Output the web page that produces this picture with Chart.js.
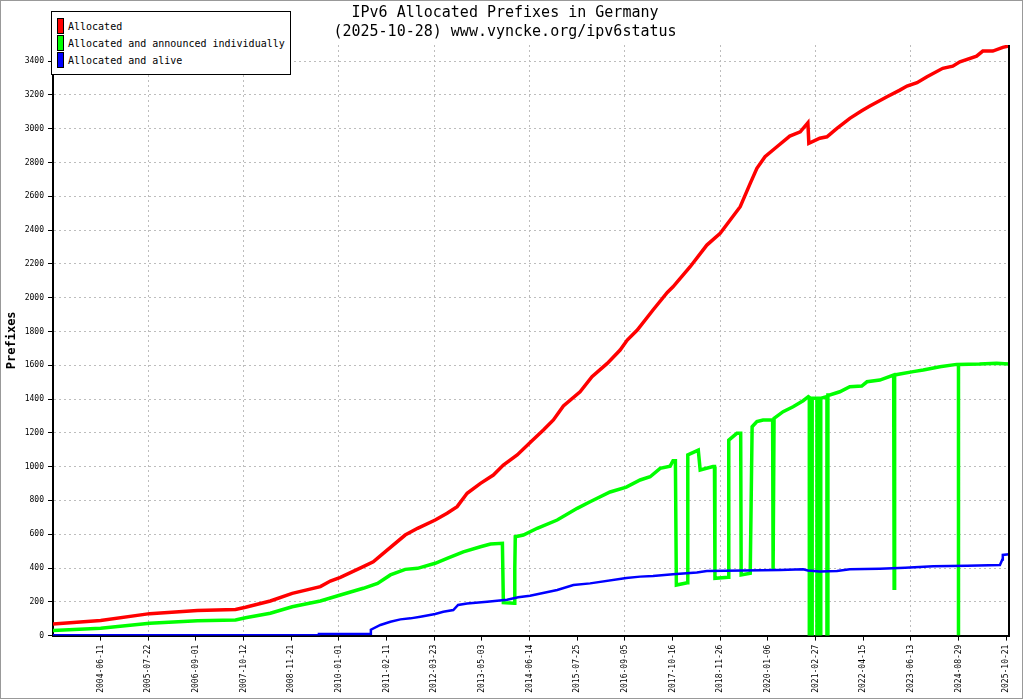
<!DOCTYPE html>
<html>
<head>
<meta charset="utf-8">
<title>IPv6 Allocated Prefixes in Germany</title>
<script src="https://cdn.jsdelivr.net/npm/chart.js@4.4.1/dist/chart.umd.min.js"></script>
<style>
  html, body { margin: 0; padding: 0; background: #fff; }
  #frame { position: absolute; left: 0; top: 0; width: 1021px; height: 697px; border: 1px solid #999; background: #fff; }
  #chart { display: block; }
  #legend { position: absolute; left: 50px; top: 10px; width: 238px; height: 62px; border: 1px solid #000; background: #fff;
            font: 10px "DejaVu Sans Mono", monospace; color: #000; }
  #legend .item { position: absolute; left: 5px; height: 16px; }
  #legend .sw { position: absolute; left: 0; top: 0; width: 5px; height: 14px; border: 1px solid #000; }
  #legend .lbl { position: absolute; left: 11px; top: 0; line-height: 17px; white-space: nowrap; }
</style>
</head>
<body>
<div id="frame">
  <canvas id="chart" width="1021" height="697"></canvas>
  <div id="legend"></div>
</div>
<script>
// x values are positions along the axis, in label steps (label k sits at x = k)
const dateLabels = ['2004-06-11','2005-07-22','2006-09-01','2007-10-12','2008-11-21','2010-01-01','2011-02-11',
  '2012-03-23','2013-05-03','2014-06-14','2015-07-25','2016-09-05','2017-10-16','2018-11-26','2020-01-06',
  '2021-02-27','2022-04-15','2023-06-13','2024-08-29','2025-10-21'];

// Allocated
const allocatedX = [0, 1.00, 2.03, 3.03, 3.83, 4.04, 4.56, 5.02, 5.61, 5.82,
  6.03, 6.51, 6.72, 6.93, 7.39, 7.65, 8.02, 8.27, 8.48, 8.69,
  8.97, 9.24, 9.45, 9.74, 10.04, 10.29, 10.50, 10.71, 11.06, 11.31,
  11.63, 11.90, 12.05, 12.26, 12.59, 12.89, 13.01, 13.37, 13.72, 14.00,
  14.21, 14.42, 14.63, 14.77, 14.94, 15.19, 15.46, 15.68, 15.84, 15.86,
  16.09, 16.24, 16.45, 16.72, 16.97, 17.14, 17.50, 17.77, 17.92, 18.13,
  18.34, 18.67, 18.88, 19.03, 19.38, 19.51, 19.72, 19.93, 20.06];
const allocatedY = [68, 90, 130, 148, 155, 168, 205, 250, 290, 323,
  345, 408, 437, 487, 595, 635, 684, 724, 763, 842,
  901, 950, 1009, 1069, 1150, 1217, 1276, 1359, 1443, 1532,
  1611, 1690, 1749, 1808, 1927, 2031, 2064, 2183, 2311, 2380,
  2459, 2538, 2676, 2765, 2834, 2893, 2956, 2981, 3035, 2913,
  2943, 2952, 3002, 3061, 3106, 3134, 3189, 3228, 3252, 3272,
  3307, 3357, 3370, 3396, 3429, 3459, 3459, 3481, 3489];

// Allocated and announced individually
const announcedX = [0, 1.00, 2.03, 3.03, 3.83, 4.04, 4.56, 5.02, 5.61, 6.03,
  6.51, 6.81, 7.08, 7.39, 7.65, 8.02, 8.27, 8.61, 8.97, 9.18,
  9.43, 9.45, 9.68, 9.69, 9.70, 9.87, 10.16, 10.58, 11.00, 11.27,
  11.69, 12.03, 12.32, 12.53, 12.74, 12.95, 13.01, 13.06, 13.08, 13.31,
  13.32, 13.54, 13.58, 13.85, 13.88, 13.89, 14.17, 14.18, 14.35, 14.43,
  14.44, 14.63, 14.67, 14.77, 14.90, 15.10, 15.11, 15.13, 15.32, 15.53,
  15.74, 15.85, 15.87, 15.87, 15.89, 15.89, 15.91, 15.91, 15.93, 15.93,
  16.03, 16.03, 16.05, 16.05, 16.07, 16.07, 16.09, 16.09, 16.11, 16.11,
  16.11, 16.24, 16.24, 16.26, 16.26, 16.30, 16.51, 16.72, 16.97, 17.08,
  17.35, 17.64, 17.65, 17.66, 17.77, 18.05, 18.26, 18.61, 18.96, 19.00,
  19.00, 19.00, 19.44, 19.80, 20.06];
const announcedY = [30, 43, 73, 88, 92, 106, 132, 171, 205, 240,
  280, 309, 359, 392, 398, 428, 457, 496, 526, 542,
  546, 195, 192, 398, 585, 595, 635, 684, 753, 792,
  850, 879, 921, 940, 990, 1003, 1035, 1035, 299, 313,
  1069, 1098, 980, 1000, 1000, 339, 345, 1157, 1197, 1197,
  359, 369, 1236, 1266, 1276, 1276, 388, 1286, 1325, 1354,
  1390, 1414, 1410, 0, 0, 1404, 1404, 0, 0, 1404,
  1404, 0, 0, 1404, 1404, 0, 0, 1404, 1404, 0,
  1404, 1414, 0, 0, 1424, 1424, 1443, 1473, 1477, 1502,
  1512, 1542, 280, 1542, 1548, 1562, 1572, 1591, 1605, 1605,
  0, 1605, 1607, 1611, 1607];

// Allocated and alive
const aliveX = [0, 5.57, 5.58, 6.66, 6.67, 6.87, 7.08, 7.29, 7.50, 7.71,
  8.02, 8.19, 8.40, 8.50, 8.69, 9.11, 9.53, 9.76, 10.01, 10.58,
  10.92, 11.27, 12.03, 12.32, 12.59, 13.01, 13.51, 13.72, 15.26, 15.74,
  15.84, 16.09, 16.45, 16.72, 17.35, 17.88, 18.47, 19.18, 19.87, 19.92,
  19.93, 20.06];
const aliveY = [2, 2, 9, 10, 35, 63, 82, 96, 102, 112,
  128, 141, 151, 181, 190, 201, 212, 227, 236, 270,
  299, 309, 341, 349, 353, 363, 374, 382, 388, 392,
  385, 380, 382, 392, 396, 402, 410, 414, 418, 450,
  477, 481];

const MONO = '"DejaVu Sans Mono", monospace';
const GRID = '#bdbdbd';

function pts(xs, ys) { return xs.map((x, i) => ({ x, y: ys[i] })); }

// right frame line of the plot area
const rightBorder = {
  id: 'rightBorder',
  afterDatasetsDraw(chart) {
    const { ctx, chartArea: a } = chart;
    ctx.save();
    ctx.strokeStyle = '#000'; ctx.lineWidth = 2;
    ctx.beginPath(); ctx.moveTo(a.right, a.top); ctx.lineTo(a.right, a.bottom); ctx.stroke();
    ctx.restore();
  }
};

const chart = new Chart(document.getElementById('chart'), {
  type: 'line',
  data: {
    datasets: [
      { label: 'Allocated', data: pts(allocatedX, allocatedY), borderColor: '#ff0000', borderWidth: 3.5, order: 2 },
      { label: 'Allocated and announced individually', data: pts(announcedX, announcedY), borderColor: '#00ff00', borderWidth: 3.5, order: 1 },
      { label: 'Allocated and alive', data: pts(aliveX, aliveY), borderColor: '#0000ff', borderWidth: 2.5, order: 0 }
    ]
  },
  options: {
    responsive: false, animation: false, devicePixelRatio: 1,
    elements: { point: { radius: 0 }, line: { tension: 0, fill: false } },
    layout: { padding: { left: 0, right: 13, top: 0, bottom: 0 } },
    plugins: {
      legend: { display: false },
      tooltip: { enabled: false },
      title: {
        display: true,
        text: ['IPv6 Allocated Prefixes in Germany', '(2025-10-28) www.vyncke.org/ipv6status'],
        color: '#000',
        font: { family: MONO, size: 15, weight: 'normal', lineHeight: '19px' },
        padding: { top: 3, bottom: 3 }
      }
    },
    scales: {
      x: {
        type: 'linear', min: 0, max: 20.06,
        afterBuildTicks: s => { s.ticks = dateLabels.map((_, i) => ({ value: i + 1 })); },
        afterFit: s => { s.height = 62.4; },
        ticks: { autoSkip: false, minRotation: 90, maxRotation: 90, padding: 4, color: '#000',
                 font: { family: MONO, size: 8 }, callback: v => dateLabels[v - 1] || '' },
        grid: { color: c => (c.tick && c.tick.value % 2 === 0 && c.tick.value < 20) ? GRID : 'rgba(0,0,0,0)',
                tickColor: '#000', tickLength: 5, lineWidth: 1 },
        border: { color: '#000', width: 2, dash: [2, 3] }
      },
      y: {
        min: 0, max: 3495,
        afterBuildTicks: s => { s.ticks = s.ticks.filter(t => t.value % 200 === 0); },
        afterFit: s => { s.width = 52; },
        ticks: { stepSize: 200, padding: 4, color: '#000', font: { family: MONO, size: 8 }, callback: v => String(v) },
        grid: { color: GRID, tickColor: '#000', tickLength: 5, lineWidth: 1 },
        border: { color: '#000', width: 2, dash: [2, 3] },
        title: { display: true, text: 'Prefixes', color: '#000', font: { family: MONO, size: 12, weight: 'bold' },
                 padding: { top: 4, bottom: 0 } }
      }
    }
  },
  plugins: [rightBorder]
});

// boxed legend in the top left corner
const legend = document.getElementById('legend');
chart.data.datasets.forEach((ds, i) => {
  const item = document.createElement('div');
  item.className = 'item';
  item.style.top = (6 + i * 17) + 'px';
  item.innerHTML = `<span class="sw" style="background:${ds.borderColor}"></span><span class="lbl">${ds.label}</span>`;
  legend.appendChild(item);
});
</script>
</body>
</html>
